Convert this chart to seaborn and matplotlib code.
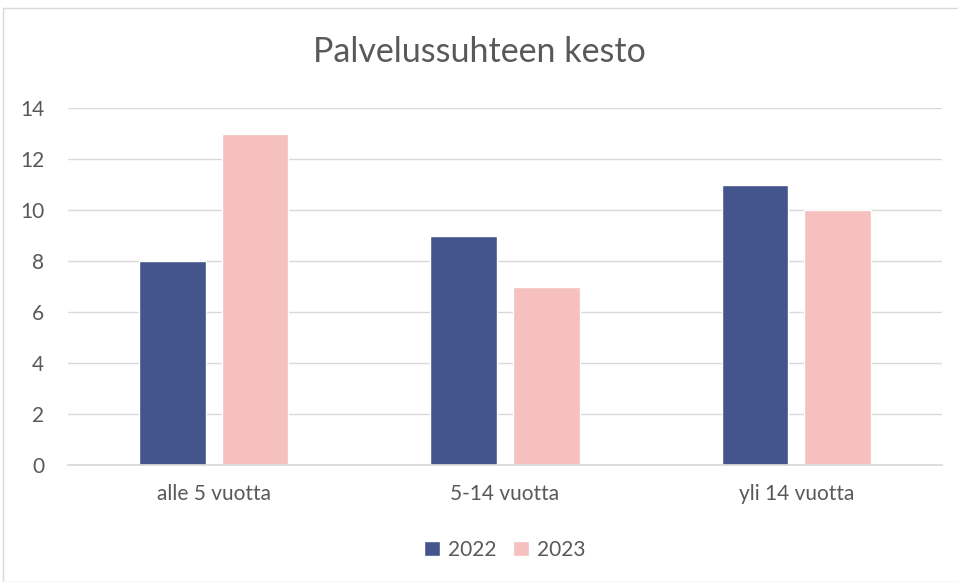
import matplotlib
matplotlib.use("Agg")
import matplotlib.pyplot as plt
import pandas as pd
import seaborn as sns
from matplotlib.patches import Rectangle

# data
categories = ["alle 5 vuotta", "5-14 vuotta", "yli 14 vuotta"]
years = ["2022", "2023"]
values_2022 = [8, 9, 11]
values_2023 = [13, 7, 10]
colors = ["#44548C", "#F5C0BE"]

df = pd.DataFrame({
    "kategoria": categories * 2,
    "vuosi": [years[0]] * 3 + [years[1]] * 3,
    "arvo": values_2022 + values_2023,
})

sns.set_theme(style="white")
plt.rcParams["font.family"] = ["Lato", "DejaVu Sans"]
text_color = "#595959"

fig = plt.figure(figsize=(9.58, 5.82), dpi=100)
ax = fig.add_axes([68 / 958, 1 - 465 / 582, 874 / 958, (465 - 108) / 582])

sns.barplot(data=df, x="kategoria", y="arvo", hue="vuosi", palette=colors,
            width=0.567, gap=0.195, ax=ax, legend=True, saturation=1)

ax.set_ylim(0, 14)
ax.set_xlim(-0.5, 2.5)
ax.set_yticks(range(0, 15, 2))
ax.yaxis.grid(True, color="#D9D9D9", linewidth=1)
ax.set_axisbelow(True)
for s in ["top", "right", "left"]:
    ax.spines[s].set_visible(False)
ax.spines["bottom"].set_color("#D9D9D9")
ax.set_xlabel("")
ax.set_ylabel("")
ax.tick_params(axis="both", length=0, labelsize=15, colors=text_color)
ax.tick_params(axis="x", pad=14)
ax.tick_params(axis="y", pad=17)

fig.text(0.5, 1 - 52 / 582, "Palvelussuhteen kesto", ha="center", va="center",
         fontsize=24.5, color=text_color)

leg = ax.legend(loc="center", bbox_to_anchor=(0.5, -(550 - 465) / 357), ncol=2,
                frameon=False, fontsize=15, handlelength=0.75, handleheight=0.75,
                columnspacing=0.8, handletextpad=0.4)
for t in leg.get_texts():
    t.set_color(text_color)

fig.patches.append(Rectangle((3 / 958, 0), 2, 1 - 8 / 582, transform=fig.transFigure,
                             fill=False, edgecolor="#D9D9D9", linewidth=1))

fig.savefig("out.png", dpi=100)
